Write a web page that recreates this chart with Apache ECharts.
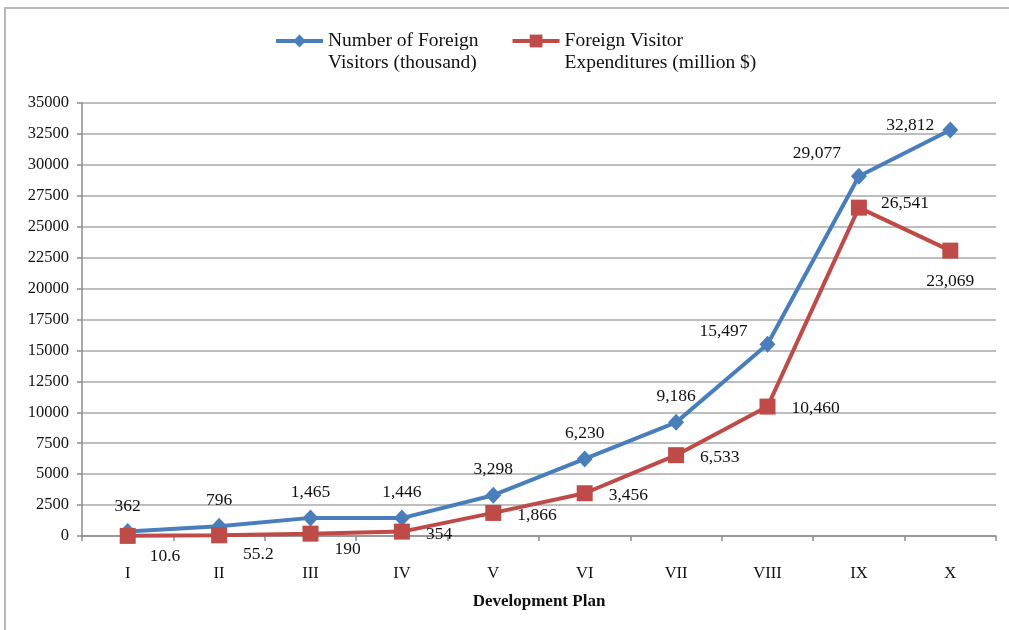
<!DOCTYPE html>
<html>
<head>
<meta charset="utf-8">
<script src="https://cdn.jsdelivr.net/npm/echarts@6/dist/echarts.min.js"></script>
<style>
  html, body { margin: 0; padding: 0; background: #fff; }
  .frame { position: absolute; left: 4px; top: 7px; width: 1100px; height: 700px;
           border-top: 2px solid #b8b8b8; border-left: 2px solid #b8b8b8; }
  .charts_1 { position: absolute; left: 0; top: 0; width: 1009px; height: 630px; }
</style>
</head>
<body>
<div class="frame"></div>
<div class="charts_1"></div>
<script>
// data
var plans = ['I', 'II', 'III', 'IV', 'V', 'VI', 'VII', 'VIII', 'IX', 'X'];
var visitors = [362, 796, 1465, 1446, 3298, 6230, 9186, 15497, 29077, 32812];
var expenditures = [10.6, 55.2, 190, 354, 1866, 3456, 6533, 10460, 26541, 23069];
var yTicks = [0, 2500, 5000, 7500, 10000, 12500, 15000, 17500, 20000, 22500, 25000, 27500, 30000, 32500, 35000];

var serif = '"Liberation Serif", "DejaVu Serif", serif';

function fmt(v) {
  if (v < 100 && v % 1 !== 0) return String(v);
  return v.toLocaleString('en-US');
}

// label placement tweaks (label layout, not data)
var blueLabel = function (i) {
  if (i === 7) return { position: 'left', distance: 12, offset: [0, -13] };
  if (i === 8) return { position: 'left', distance: 10, offset: [0, -23] };
  if (i === 9) return { position: 'left', distance: 8, offset: [0, -5] };
  return { position: 'top', distance: 8 };
};
var redLabel = function (i) {
  var offs = [[-2, 21], [0, 19], [0, 16], [0, 3]];
  if (i === 9) return { position: 'bottom', distance: 14 };
  if (i === 8) return { position: 'right', distance: 14, offset: [0, -4] };
  if (i < 4) return { position: 'right', distance: 16, offset: offs[i] };
  return { position: 'right', distance: 16, offset: [0, 2] };
};

var myChart = echarts.init(document.querySelector('.charts_1'));

var option = {
  animation: false,
  backgroundColor: 'transparent',
  legend: {
    left: 274,
    top: 8,
    padding: 0,
    itemGap: 32,
    itemWidth: 47,
    itemHeight: 16,
    lineStyle: { width: 4 },
    formatter: function (name) { return ' \n' + name; },
    textStyle: {
      fontFamily: serif,
      fontSize: 19.5,
      color: '#111',
      lineHeight: 22
    },
    data: ['Number of Foreign\nVisitors (thousand)', 'Foreign Visitor\nExpenditures (million $)']
  },
  grid: { left: 82, right: 13, top: 103, bottom: 94 },
  xAxis: {
    type: 'category',
    data: plans,
    boundaryGap: true,
    name: 'Development Plan',
    nameLocation: 'middle',
    nameGap: 57,
    nameTextStyle: { fontFamily: serif, fontSize: 17, fontWeight: 'bold', color: '#111' },
    axisLine: { lineStyle: { color: '#8c8c8c', width: 1.5 } },
    axisTick: { show: true, length: 5, alignWithLabel: false, lineStyle: { color: '#8c8c8c', width: 1.5 } },
    axisLabel: { fontFamily: serif, fontSize: 16.5, color: '#111', margin: 29 },
    splitLine: { show: false }
  },
  yAxis: {
    type: 'value',
    min: yTicks[0],
    max: yTicks[yTicks.length - 1],
    interval: yTicks[1] - yTicks[0],
    axisLine: { show: true, lineStyle: { color: '#8c8c8c', width: 1.5 } },
    axisTick: { show: true, length: 5, lineStyle: { color: '#8c8c8c', width: 1.5 } },
    axisLabel: { fontFamily: serif, fontSize: 16.5, color: '#111', margin: 13,
      formatter: function (v) { return String(v); } },
    splitLine: { lineStyle: { color: '#a8a8a8', width: 1.5 } }
  },
  series: [
    {
      name: 'Number of Foreign\nVisitors (thousand)',
      type: 'line',
      data: visitors.map(function (v, i) {
        return { value: v, label: blueLabel(i) };
      }),
      symbol: 'diamond',
      symbolSize: [16, 17],
      itemStyle: { color: '#4a7ebb' },
      lineStyle: { color: '#4a7ebb', width: 4 },
      label: {
        show: true,
        fontFamily: serif,
        fontSize: 17.5,
        color: '#111',
        formatter: function (p) { return fmt(p.value); }
      }
    },
    {
      name: 'Foreign Visitor\nExpenditures (million $)',
      type: 'line',
      data: expenditures.map(function (v, i) {
        return { value: v, label: redLabel(i) };
      }),
      symbol: 'rect',
      symbolSize: 16,
      itemStyle: { color: '#be4b48' },
      lineStyle: { color: '#be4b48', width: 4 },
      label: {
        show: true,
        fontFamily: serif,
        fontSize: 17.5,
        color: '#111',
        formatter: function (p) { return fmt(p.value); }
      }
    }
  ]
};

myChart.setOption(option);
</script>
</body>
</html>
